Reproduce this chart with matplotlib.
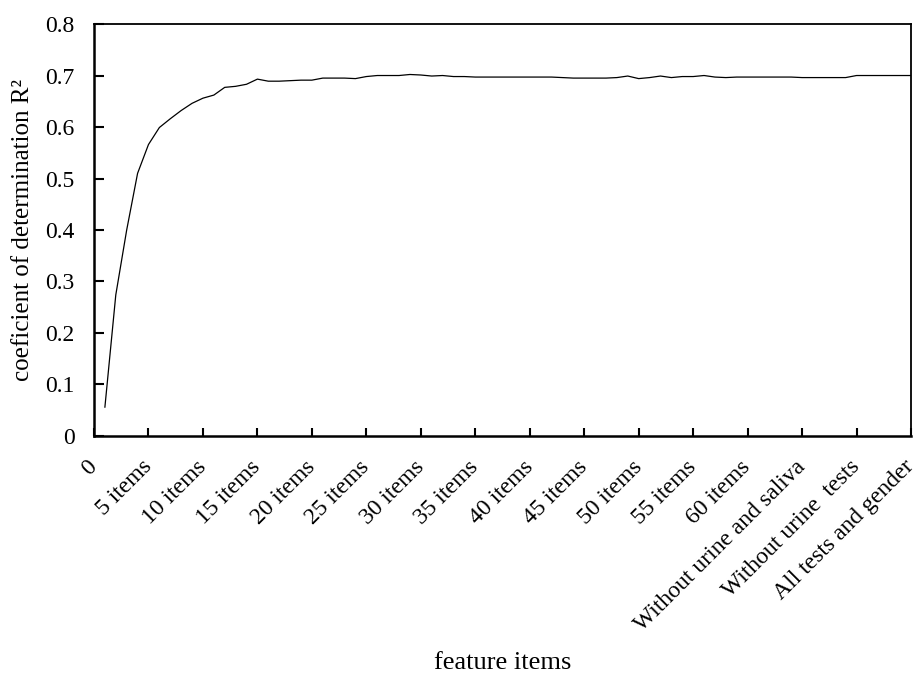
import matplotlib
matplotlib.use("Agg")
import matplotlib.pyplot as plt
import numpy as np

# R^2 per number of feature items
r2_values = [
    0.056, 0.274, 0.400, 0.510, 0.566, 0.599, 0.616, 0.632, 0.646, 0.656,
    0.662, 0.677, 0.679, 0.683, 0.693, 0.689, 0.689, 0.690, 0.691, 0.691,
    0.695, 0.695, 0.695, 0.694, 0.698, 0.700, 0.700, 0.700, 0.702, 0.701,
    0.699, 0.700, 0.698, 0.698, 0.697, 0.697, 0.697, 0.697, 0.697, 0.697,
    0.697, 0.697, 0.696, 0.695, 0.695, 0.695, 0.695, 0.696, 0.699, 0.694,
    0.696, 0.699, 0.696, 0.698, 0.698, 0.700, 0.697, 0.696, 0.697, 0.697,
    0.697, 0.697, 0.697, 0.697, 0.696, 0.696, 0.696, 0.696, 0.696, 0.700,
    0.700, 0.700, 0.700, 0.700, 0.700,
]
x_positions = np.arange(1, len(r2_values) + 1)

x_ticks = list(range(0, 80, 5))
x_tick_labels = ["0", "5 items", "10 items", "15 items", "20 items", "25 items",
                 "30 items", "35 items", "40 items", "45 items", "50 items",
                 "55 items", "60 items", "Without urine and saliva",
                 "Without urine  tests", "All tests and gender"]
y_ticks = [0, 0.1, 0.2, 0.3, 0.4, 0.5, 0.6, 0.7, 0.8]
y_tick_labels = ["0", "0.1", "0.2", "0.3", "0.4", "0.5", "0.6", "0.7", "0.8"]

plt.rcParams['font.family'] = ['Liberation Serif', 'DejaVu Serif']

fig = plt.figure(figsize=(9.18, 6.73), dpi=100)
ax = fig.add_axes([0.1024, 0.3522, 0.8900, 0.6121])

ax.plot(x_positions, r2_values, color='black', linewidth=0.9)

ax.set_xlim(0, 75)
ax.set_ylim(0, 0.8)

ax.set_xticks(x_ticks)
ax.set_xticklabels(x_tick_labels, rotation=45, ha='right', va='center',
                   rotation_mode='anchor', fontsize=17)
ax.set_yticks(y_ticks)
ax.set_yticklabels(y_tick_labels, fontsize=17)

ax.tick_params(axis='x', direction='in', length=6, width=1.5, pad=20)
ax.tick_params(axis='y', direction='in', length=7, width=1.5, pad=14)

for side in ['left', 'bottom']:
    ax.spines[side].set_linewidth(1.8)
for side in ['top', 'right']:
    ax.spines[side].set_linewidth(1.3)

ax.set_ylabel("coeficient of determination R²", fontsize=18, labelpad=8)
ax.set_xlabel("feature items", fontsize=19, labelpad=12)

fig.savefig("out.png", dpi=100)
